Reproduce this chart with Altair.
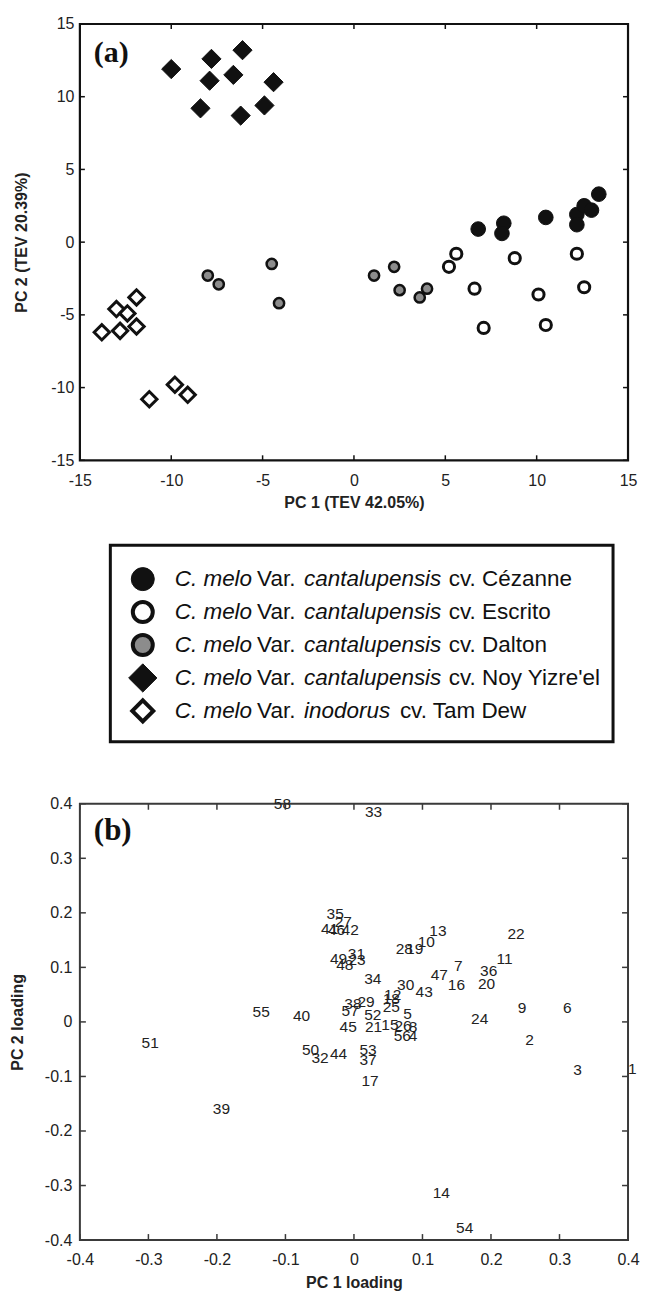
import altair as alt
import pandas as pd

# ---------------- Panel (a): PCA scores ----------------
cezanne_pc1 = [6.8, 8.2, 8.1, 10.5, 12.2, 12.2, 12.6, 13.0, 13.4]
cezanne_pc2 = [0.9, 1.3, 0.6, 1.7, 1.9, 1.2, 2.5, 2.2, 3.3]
escrito_pc1 = [5.6, 5.2, 8.8, 12.2, 6.6, 10.1, 12.6, 7.1, 10.5]
escrito_pc2 = [-0.8, -1.7, -1.1, -0.8, -3.2, -3.6, -3.1, -5.9, -5.7]
dalton_pc1 = [1.1, 2.2, 2.5, 3.6, 4.0, -8.0, -7.4, -4.5, -4.1]
dalton_pc2 = [-2.3, -1.7, -3.3, -3.8, -3.2, -2.3, -2.9, -1.5, -4.2]
noy_pc1 = [-10.0, -7.8, -6.1, -7.9, -6.6, -4.4, -8.4, -6.2, -4.9]
noy_pc2 = [11.9, 12.6, 13.2, 11.1, 11.5, 11.0, 9.2, 8.7, 9.4]
tamdew_pc1 = [-13.8, -13.0, -12.4, -11.9, -12.8, -11.9, -11.2, -9.8, -9.1]
tamdew_pc2 = [-6.2, -4.6, -4.9, -3.8, -6.1, -5.8, -10.8, -9.8, -10.5]

cultivars = ["Cézanne", "Escrito", "Dalton", "Noy Yizre'el", "Tam Dew"]
varieties = ["cantalupensis", "cantalupensis", "cantalupensis", "cantalupensis", "inodorus"]

score_ticks = [-15, -10, -5, 0, 5, 10, 15]

# ---------------- Panel (b): loadings ----------------
loading_id = list(range(1, 59))
loading_pc1 = [0.400, 0.250, 0.320, 0.080, 0.072, 0.305, 0.146, 0.080, 0.239, 0.093,
               0.208, 0.044, 0.110, 0.115, 0.040, 0.137, 0.011, 0.042, 0.076, 0.181,
               0.016, 0.224, -0.008, 0.171, 0.042, 0.059, -0.028, 0.061, 0.005, 0.063,
               -0.009, -0.062, 0.016, 0.015, -0.040, 0.184, 0.008, -0.014, -0.206, -0.089,
               -0.048, -0.018, 0.090, -0.035, -0.021, -0.038, 0.112, -0.026, -0.035, -0.076,
               -0.310, 0.015, 0.008, 0.149, -0.148, 0.058, -0.018, -0.117]
loading_pc2 = [-0.086, -0.034, -0.088, -0.026, 0.015, 0.025, 0.102, -0.010, 0.025, 0.146,
               0.116, 0.049, 0.166, -0.314, -0.006, 0.067, -0.108, 0.042, 0.133, 0.070,
               -0.010, 0.162, 0.113, 0.006, 0.028, -0.007, 0.184, 0.134, 0.037, 0.067,
               0.125, -0.067, 0.384, 0.078, 0.197, 0.093, -0.070, 0.032, -0.159, 0.011,
               0.171, 0.168, 0.055, -0.058, -0.010, 0.168, 0.086, 0.105, 0.116, -0.051,
               -0.039, 0.012, -0.051, -0.378, 0.019, -0.026, 0.020, 0.400]

loading_ticks = [-0.4, -0.3, -0.2, -0.1, 0, 0.1, 0.2, 0.3, 0.4]
panel_tags = ["(a)", "(b)"]

# ---------------- styling ----------------
FONT = "Liberation Sans"
INK = "#111111"
TXT = "#222222"
GRAY = "#8c8c8c"
FRAME_B = "#3a3a3a"

series_xy = {
    "Cézanne": (cezanne_pc1, cezanne_pc2),
    "Escrito": (escrito_pc1, escrito_pc2),
    "Dalton": (dalton_pc1, dalton_pc2),
    "Noy Yizre'el": (noy_pc1, noy_pc2),
    "Tam Dew": (tamdew_pc1, tamdew_pc2),
}
# shape, fill, strokeWidth, size (plot), strokeWidth (legend), size (legend)
STYLE = {
    "Cézanne": ("circle", INK, 1.0, 215, 1.0, 530),
    "Escrito": ("circle", "white", 3.0, 125, 4.0, 400),
    "Dalton": ("circle", GRAY, 2.5, 105, 4.0, 400),
    "Noy Yizre'el": ("diamond", INK, 1.0, 370, 1.0, 800),
    "Tam Dew": ("diamond", "white", 3.0, 235, 4.0, 441),
}

int_fmt = "datum.value < 0 ? '-' + format(-datum.value, 'd') : format(datum.value, 'd')"
dec_fmt = ("abs(datum.value) < 1e-9 ? '0' : (datum.value < 0 ? '-' + format(-datum.value, '.1f')"
           " : format(datum.value, '.1f'))")

axis_common = dict(ticks=False, domain=False, grid=False, labelFlush=False,
                   labelFont=FONT, labelFontSize=16, labelColor=TXT,
                   titleFont=FONT, titleFontSize=16, titleFontWeight="bold", titleColor=TXT)

W, H = 549, 437

# ================= Panel (a) =================
TL1 = 5
sxa = alt.Scale(domain=[-15, 15], nice=False, zero=False)
sya = alt.Scale(domain=[-15, 15], nice=False, zero=False)
ax_a_x = alt.Axis(values=score_ticks, title="PC 1 (TEV 42.05%)", labelExpr=int_fmt,
                  labelPadding=12, titlePadding=6, **axis_common)
ax_a_y = alt.Axis(values=score_ticks, title="PC 2 (TEV 20.39%)", labelExpr=int_fmt,
                  labelPadding=6, titlePadding=21, **axis_common)


def xa():
    return alt.X("pc1:Q", scale=sxa, axis=ax_a_x)


def ya():
    return alt.Y("pc2:Q", scale=sya, axis=ax_a_y)


layers_a = []
for name in cultivars:
    xs, ys = series_xy[name]
    shp, fill, sw, size, _, _ = STYLE[name]
    df = pd.DataFrame({"pc1": xs, "pc2": ys})
    layers_a.append(
        alt.Chart(df).mark_point(shape=shp, filled=True, fill=fill, stroke=INK, strokeWidth=sw,
                                 size=size, opacity=1).encode(x=xa(), y=ya())
    )

tick_ax = pd.DataFrame({"pc1": score_ticks})
tick_ay = pd.DataFrame({"pc2": score_ticks})
rule_a = dict(color=INK, strokeWidth=1.5)
layers_a += [
    alt.Chart(tick_ax).mark_rule(**rule_a).encode(x=xa(), y=alt.value(0), y2=alt.value(TL1)),
    alt.Chart(tick_ax).mark_rule(**rule_a).encode(x=xa(), y=alt.value(H), y2=alt.value(H - TL1)),
    alt.Chart(tick_ay).mark_rule(**rule_a).encode(y=ya(), x=alt.value(0), x2=alt.value(TL1)),
    alt.Chart(tick_ay).mark_rule(**rule_a).encode(y=ya(), x=alt.value(W), x2=alt.value(W - TL1)),
    alt.Chart(pd.DataFrame({"p": [panel_tags[0]]})).mark_text(
        font="Liberation Serif", fontWeight="bold", fontSize=30, align="left", baseline="middle", color=INK
    ).encode(text="p:N", x=alt.value(14), y=alt.value(29)),
]

panel_a = alt.layer(*layers_a).properties(
    width=W, height=H, view=alt.ViewBackground(stroke=INK, strokeWidth=2.2, fill="white")
)

# ================= Legend =================
# legend box geometry inside its (frameless) view
BOX_L, BOX_R, BOX_T, BOX_B = 30.5, 534, 23, 220
ROW_FIRST, ROW_LAST = 57, 189
leg_df = pd.DataFrame({
    "cultivar": cultivars,
    "genus": ["C. melo"] * len(cultivars),
    "rank": ["Var."] * len(cultivars),
    "variety": varieties,
    "cv": ["cv. " + c for c in cultivars],
})
ly = alt.Y("cultivar:N", sort=cultivars,
           scale=alt.Scale(type="point", domain=cultivars, range=[ROW_FIRST, ROW_LAST], padding=0),
           axis=None)
text_kw = dict(align="left", baseline="middle", font=FONT, fontSize=22.5, color=INK)

leg_layers = [
    alt.Chart(pd.DataFrame({"b": [0]})).mark_rect(fill="white", stroke=INK, strokeWidth=3).encode(
        x=alt.value(BOX_L), x2=alt.value(BOX_R), y=alt.value(BOX_T), y2=alt.value(BOX_B))
]
for name in cultivars:
    shp, fill, _, _, lsw, lsize = STYLE[name]
    leg_layers.append(
        alt.Chart(leg_df).transform_filter(alt.datum.cultivar == name).mark_point(
            shape=shp, filled=True, fill=fill, stroke=INK, strokeWidth=lsw, size=lsize, opacity=1
        ).encode(y=ly, x=alt.value(BOX_L + 32.5))
    )
leg_layers += [
    alt.Chart(leg_df).mark_text(fontStyle="italic", **text_kw).encode(y=ly, x=alt.value(BOX_L + 64.5), text="genus:N"),
    alt.Chart(leg_df).mark_text(**text_kw).encode(y=ly, x=alt.value(BOX_L + 147), text="rank:N"),
    alt.Chart(leg_df).mark_text(fontStyle="italic", **text_kw).encode(y=ly, x=alt.value(BOX_L + 194), text="variety:N"),
    alt.Chart(leg_df).transform_filter(alt.datum.variety == "cantalupensis").mark_text(**text_kw).encode(
        y=ly, x=alt.value(BOX_L + 339), text="cv:N"),
    alt.Chart(leg_df).transform_filter(alt.datum.variety == "inodorus").mark_text(**text_kw).encode(
        y=ly, x=alt.value(BOX_L + 290), text="cv:N"),
]
legend_panel = alt.layer(*leg_layers).properties(width=W, height=BOX_B)

# ================= Panel (b) =================
TL2 = 6
sxb = alt.Scale(domain=[-0.4, 0.4], nice=False, zero=False)
syb = alt.Scale(domain=[-0.4, 0.4], nice=False, zero=False)
ax_b_x = alt.Axis(values=loading_ticks, title="PC 1 loading", labelExpr=dec_fmt,
                  labelPadding=11, titlePadding=8, **axis_common)
ax_b_y = alt.Axis(values=loading_ticks, title="PC 2 loading", labelExpr=dec_fmt,
                  labelPadding=8, titlePadding=19, **axis_common)


def xb():
    return alt.X("pc1:Q", scale=sxb, axis=ax_b_x)


def yb():
    return alt.Y("pc2:Q", scale=syb, axis=ax_b_y)


load_df = pd.DataFrame({"id": loading_id, "pc1": loading_pc1, "pc2": loading_pc2})
labels_b = alt.Chart(load_df).mark_text(
    align="left", baseline="middle", font=FONT, fontSize=15.5, color=TXT
).encode(x=xb(), y=yb(), text="id:N")

tick_bx = pd.DataFrame({"pc1": loading_ticks})
tick_by = pd.DataFrame({"pc2": loading_ticks})
rule_b = dict(color=FRAME_B, strokeWidth=1.5)
layers_b = [
    labels_b,
    alt.Chart(tick_bx).mark_rule(**rule_b).encode(x=xb(), y=alt.value(0), y2=alt.value(TL2)),
    alt.Chart(tick_bx).mark_rule(**rule_b).encode(x=xb(), y=alt.value(H), y2=alt.value(H - TL2)),
    alt.Chart(tick_by).mark_rule(**rule_b).encode(y=yb(), x=alt.value(0), x2=alt.value(TL2)),
    alt.Chart(tick_by).mark_rule(**rule_b).encode(y=yb(), x=alt.value(W), x2=alt.value(W - TL2)),
    alt.Chart(pd.DataFrame({"p": [panel_tags[1]]})).mark_text(
        font="Liberation Serif", fontWeight="bold", fontSize=31, align="left", baseline="middle", color=INK
    ).encode(text="p:N", x=alt.value(14), y=alt.value(27.5)),
]
panel_b = alt.layer(*layers_b).properties(
    width=W, height=H, view=alt.ViewBackground(stroke=FRAME_B, strokeWidth=2, fill="white")
)

chart = alt.vconcat(panel_a, legend_panel, panel_b, spacing=62, bounds="flush").properties(
    background="white", padding={"left": 0, "top": 5, "right": 0, "bottom": 0}
).configure_view(stroke=None)

chart.save("out.html", embed_options={"renderer": "svg", "actions": False})
